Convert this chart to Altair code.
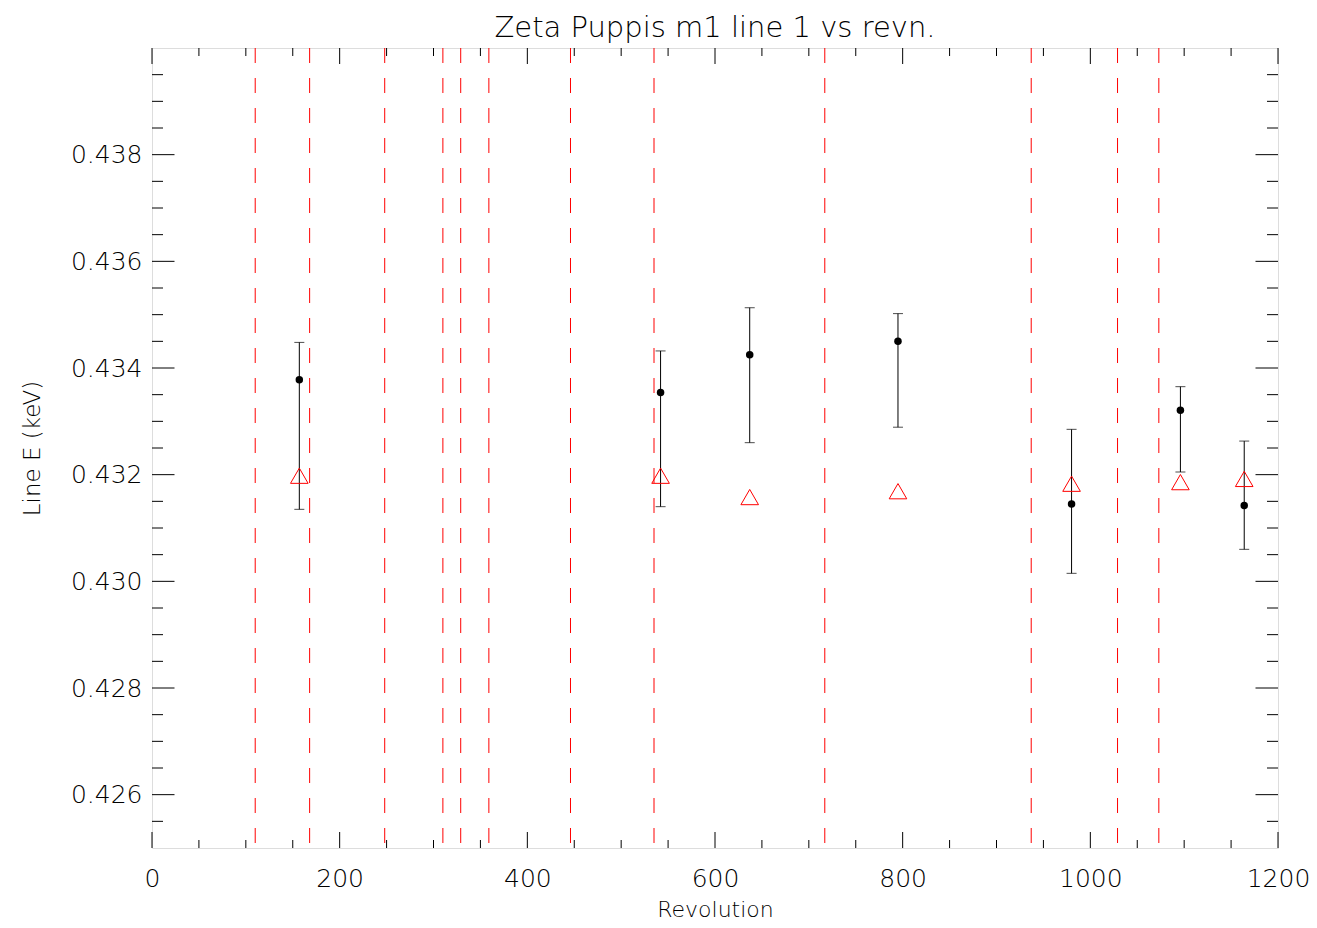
import altair as alt
import pandas as pd

# ---- data ----
rev = [157, 542, 637, 795, 980, 1096, 1164]
line_e = [0.43378, 0.43354, 0.43425, 0.43450, 0.43145, 0.43321, 0.43142]
err_hi = [0.43448, 0.43432, 0.43513, 0.43502, 0.43285, 0.43365, 0.43263]
err_lo = [0.43135, 0.43140, 0.43260, 0.43289, 0.43015, 0.43205, 0.43060]
model_e = [0.43198, 0.43198, 0.43158, 0.43169, 0.43183, 0.43186, 0.43192]
vlines = [110, 168, 248, 310, 329, 359, 446, 535, 717, 937, 1029, 1073]

x_major = [0, 200, 400, 600, 800, 1000, 1200]
x_minor = [50, 100, 150, 250, 300, 350, 450, 500, 550, 650, 700, 750,
           850, 900, 950, 1050, 1100, 1150]
y_major = [0.426, 0.428, 0.430, 0.432, 0.434, 0.436, 0.438]
y_minor = [0.4255, 0.4265, 0.427, 0.4275, 0.4285, 0.429, 0.4295, 0.4305,
           0.431, 0.4315, 0.4325, 0.433, 0.4335, 0.4345, 0.435, 0.4355,
           0.4365, 0.437, 0.4375, 0.4385, 0.439, 0.4395]

W, H = 1126, 800
FONT = "DejaVu Sans"
TXT = "#000000"

xs = alt.Scale(domain=[0, 1200], nice=False, zero=False)
ys = alt.Scale(domain=[0.425, 0.440], nice=False, zero=False)

X_AX = alt.Axis(
    values=x_major, format="d", title="Revolution", ticks=False, domain=False, grid=False,
    labelFont=FONT, labelFontSize=25, labelFontWeight=200, labelColor=TXT, labelPadding=18,
    titleFont=FONT, titleFontSize=22, titleFontWeight=200, titleColor=TXT, titlePadding=8,
    labelFlush=False)
Y_AX = alt.Axis(
    values=y_major, format=".3f", title="Line E (keV)", ticks=False, domain=False, grid=False,
    labelFont=FONT, labelFontSize=25, labelFontWeight=200, labelColor=TXT, labelPadding=10,
    titleFont=FONT, titleFontSize=23, titleFontWeight=200, titleColor=TXT, titlePadding=26,
    labelFlush=False)

def X(f):
    return alt.X(f, scale=xs, axis=X_AX, title="Revolution")

def Y(f):
    return alt.Y(f, scale=ys, axis=Y_AX, title="Line E (keV)")

pts = pd.DataFrame({"rev": rev, "e": line_e, "hi": err_hi, "lo": err_lo, "m": model_e})
vl = pd.DataFrame({"v": vlines})
xmaj = pd.DataFrame({"v": x_major})
xmin = pd.DataFrame({"v": x_minor})
ymaj = pd.DataFrame({"v": y_major})
ymin = pd.DataFrame({"v": y_minor})

dashed = alt.Chart(vl).mark_rule(color="#ff0000", strokeWidth=1, strokeDash=[15, 15]).encode(
    x=X("v:Q"), y=alt.value(0), y2=alt.value(H))

def rules(df, axis_x, a, b):
    if axis_x:
        return alt.Chart(df).mark_rule(color="black", strokeWidth=1).encode(
            x=X("v:Q"), y=alt.value(a), y2=alt.value(b))
    return alt.Chart(df).mark_rule(color="black", strokeWidth=1).encode(
        y=Y("v:Q"), x=alt.value(a), x2=alt.value(b))

ticks = [
    rules(xmaj, True, H, H - 16), rules(xmaj, True, 0, 16),
    rules(xmin, True, H, H - 8), rules(xmin, True, 0, 8),
    rules(ymaj, False, 0, 22.5), rules(ymaj, False, W, W - 22.5),
    rules(ymin, False, 0, 11), rules(ymin, False, W, W - 11),
]

bars = alt.Chart(pts).mark_rule(color="black", strokeWidth=1).encode(
    x=X("rev:Q"), y=Y("lo:Q"), y2="hi:Q")
cap_hi = alt.Chart(pts).mark_tick(color="black", orient="horizontal", size=10, thickness=1).encode(
    x=X("rev:Q"), y=Y("hi:Q"))
cap_lo = alt.Chart(pts).mark_tick(color="black", orient="horizontal", size=10, thickness=1).encode(
    x=X("rev:Q"), y=Y("lo:Q"))
dots = alt.Chart(pts).mark_point(filled=True, color="black", size=56, opacity=1).encode(
    x=X("rev:Q"), y=Y("e:Q"))
tri = alt.Chart(pts).mark_point(shape="triangle-up", color="#ff0000", filled=False,
                                 size=310, strokeWidth=1, opacity=1).encode(
    x=X("rev:Q"), y=Y("m:Q"))

chart = alt.layer(dashed, *ticks, bars, cap_hi, cap_lo, tri, dots).properties(
    width=W, height=H,
    title=alt.TitleParams("Zeta Puppis m1 line 1 vs revn.", font=FONT, fontSize=29,
                          fontWeight=200, color=TXT, anchor="middle", offset=5),
    autosize=alt.AutoSizeParams(type="none"),
    padding={"left": 144, "top": 40, "right": 31, "bottom": 72},
).configure_view(stroke="black", strokeWidth=1).configure(background="white")

chart.save("out.html", embed_options={"renderer": "svg", "actions": False})
